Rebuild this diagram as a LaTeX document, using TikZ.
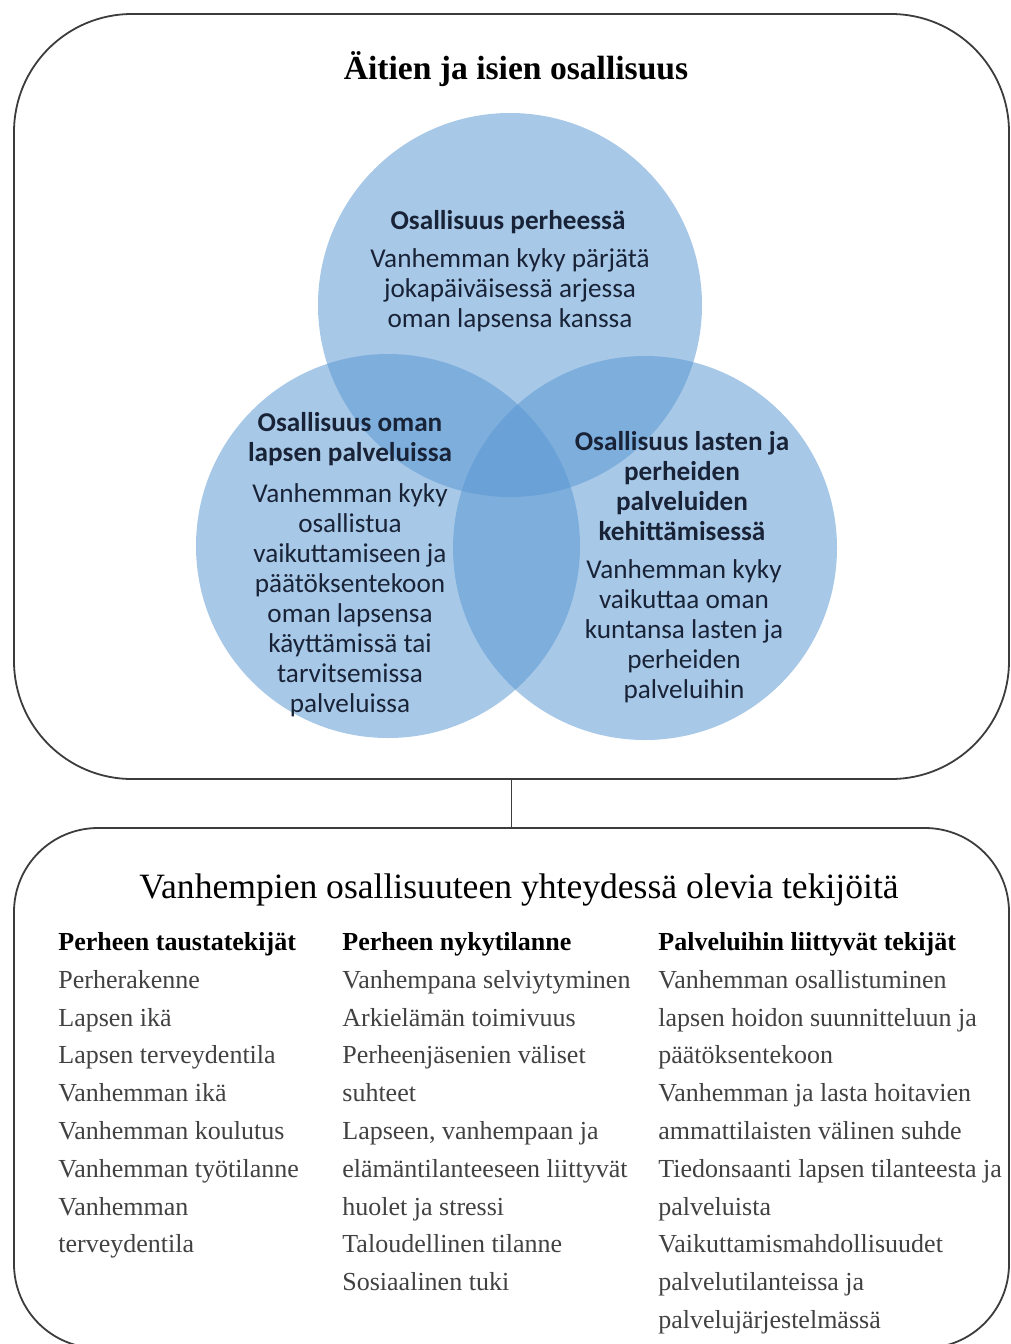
\documentclass[tikz,border=0pt]{standalone}
\usepackage{fontspec}
\setmainfont{Liberation Serif}
\newfontfamily\calibri{Carlito}
\usetikzlibrary{positioning}

\definecolor{vennblue}{RGB}{88,150,210}
\definecolor{framegray}{RGB}{60,60,60}
\definecolor{ink}{RGB}{25,35,55}
\definecolor{grayink}{RGB}{65,65,65}

\begin{document}
\begin{tikzpicture}[x=0.5pt,y=0.5pt,
        panel/.style = {
            draw=framegray,
            line width=0.9pt,
            rounded corners=#1,
            inner sep=0pt
        },
        venn/.style = {circle, fill=vennblue, fill opacity=0.52, minimum size=192pt, inner sep=0pt},
        head/.style = {font=\calibri\bfseries\fontsize{13.6}{15}\selectfont, align=center, text=ink, inner sep=0pt},
        body/.style = {font=\calibri\fontsize{13.6}{15}\selectfont, align=center, text=ink, inner sep=0pt},
        col/.style = {font=\fontsize{13}{18.9}\selectfont, align=left, anchor=north west, inner sep=0pt, text=grayink}]

        \useasboundingbox (0,0) rectangle (1011,-1344);

        % the two frames
        \node[panel=59pt, minimum width=497.5pt, minimum height=382.5pt] (upper) at (511.5,-396.5) {};
        \node[panel=42pt, minimum width=497.5pt, minimum height=260pt] (lower) at (511.5,-1088) {};
        \draw[framegray, line width=0.9pt] (upper.south) -- (lower.north);

        \node[font=\bfseries\fontsize{16.8}{19}\selectfont] (maintitle) at (516,-69) {Äitien ja isien osallisuus};

        % venn circles
        \node[venn] (family) at (510,-305) {};
        \node[venn] (ownchild) at (388,-546) {};
        \node[venn] (develop) at (645,-548) {};

        \node[head] (familyhead) at (508,-222) {Osallisuus perheessä};
        \node[body] (familytext) at (510,-290) {Vanhemman kyky pärjätä\\jokapäiväisessä arjessa\\oman lapsensa kanssa};

        \node[head] (ownhead) at (350,-439) {Osallisuus oman\\lapsen palveluissa};
        \node[body] (owntext) at (350,-600) {Vanhemman kyky\\osallistua\\vaikuttamiseen ja\\päätöksentekoon\\oman lapsensa\\käyttämissä tai\\tarvitsemissa\\palveluissa};

        \node[head] (devhead) at (682,-486) {Osallisuus lasten ja\\perheiden\\palveluiden\\kehittämisessä};
        \node[body] (devtext) at (684,-631) {Vanhemman kyky\\vaikuttaa oman\\kuntansa lasten ja\\perheiden\\palveluihin};

        % factors
        \node[font=\fontsize{17.8}{21}\selectfont] (factors) at (519,-890) {Vanhempien osallisuuteen yhteydessä olevia tekijöitä};

        \node[col] (background) at (58,-932) {{\color{black}\bfseries Perheen taustatekijät}\\
            Perherakenne\\Lapsen ikä\\Lapsen terveydentila\\Vanhemman ikä\\Vanhemman koulutus\\Vanhemman työtilanne\\Vanhemman\\terveydentila};
        \node[col] (current) at (342,-932) {{\color{black}\bfseries Perheen nykytilanne}\\
            Vanhempana selviytyminen\\Arkielämän toimivuus\\Perheenjäsenien väliset\\suhteet\\Lapseen, vanhempaan ja\\elämäntilanteeseen liittyvät\\huolet ja stressi\\Taloudellinen tilanne\\Sosiaalinen tuki};
        \node[col] (services) at (658,-932) {{\color{black}\bfseries Palveluihin liittyvät tekijät}\\
            Vanhemman osallistuminen\\lapsen hoidon suunnitteluun ja\\päätöksentekoon\\Vanhemman ja lasta hoitavien\\ammattilaisten välinen suhde\\Tiedonsaanti lapsen tilanteesta ja\\palveluista\\Vaikuttamismahdollisuudet\\palvelutilanteissa ja\\palvelujärjestelmässä};
    \end{tikzpicture}
\end{document}
